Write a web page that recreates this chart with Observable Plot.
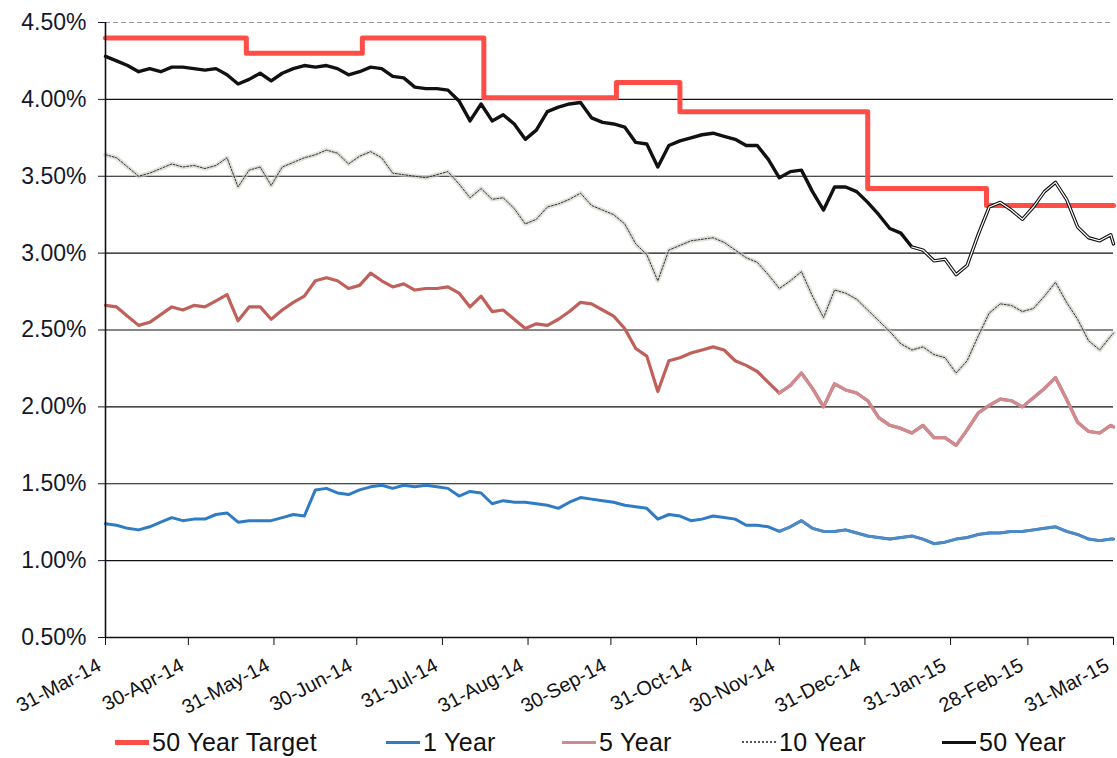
<!DOCTYPE html>
<html>
<head>
<meta charset="utf-8">
<script src="https://cdn.jsdelivr.net/npm/d3@7"></script>
<script src="https://cdn.jsdelivr.net/npm/@observablehq/plot@0.6"></script>
<style>
  body { margin: 0; background: #fff; }
  #wrap { position: relative; width: 1117px; height: 758px; font-family: "Liberation Sans", Arial, sans-serif; background: #fff; }
  #legend { position: absolute; left: 0; top: 722px; width: 1117px; height: 40px; }
  .item { position: absolute; top: 0; height: 40px; display: flex; align-items: center; font-size: 25px; letter-spacing: 0.3px; color: #111; white-space: nowrap; }
  .sw { display: inline-block; width: 34px; margin-right: 3px; }
</style>
</head>
<body>
<div id="wrap">
  <div id="chart"></div>
  <div id="legend"></div>
</div>
<script>
// Observation dates (every four days across the year)
const dates = [
  "2014-03-31",
  "2014-04-04","2014-04-08","2014-04-12","2014-04-16","2014-04-20","2014-04-24","2014-04-28",
  "2014-05-02","2014-05-06","2014-05-10","2014-05-14","2014-05-18","2014-05-22","2014-05-26","2014-05-30",
  "2014-06-03","2014-06-07","2014-06-11","2014-06-15","2014-06-19","2014-06-23","2014-06-27",
  "2014-07-01","2014-07-05","2014-07-09","2014-07-13","2014-07-17","2014-07-21","2014-07-25","2014-07-29",
  "2014-08-02","2014-08-06","2014-08-10","2014-08-14","2014-08-18","2014-08-22","2014-08-26","2014-08-30",
  "2014-09-03","2014-09-07","2014-09-11","2014-09-15","2014-09-19","2014-09-23","2014-09-27",
  "2014-10-01","2014-10-05","2014-10-09","2014-10-13","2014-10-17","2014-10-21","2014-10-25","2014-10-29",
  "2014-11-02","2014-11-06","2014-11-10","2014-11-14","2014-11-18","2014-11-22","2014-11-26","2014-11-30",
  "2014-12-04","2014-12-08","2014-12-12","2014-12-16","2014-12-20","2014-12-24","2014-12-28",
  "2015-01-01","2015-01-05","2015-01-09","2015-01-13","2015-01-17","2015-01-21","2015-01-25","2015-01-29",
  "2015-02-02","2015-02-06","2015-02-10","2015-02-14","2015-02-18","2015-02-22","2015-02-26",
  "2015-03-02","2015-03-06","2015-03-10","2015-03-14","2015-03-18","2015-03-22","2015-03-26","2015-03-30","2015-03-31"
];

// Yields, % per annum
const year1 = [
  1.24,
  1.23, 1.21, 1.20, 1.22, 1.25, 1.28, 1.26,
  1.27, 1.27, 1.30, 1.31, 1.25, 1.26, 1.26, 1.26,
  1.28, 1.30, 1.29, 1.46, 1.47, 1.44, 1.43,
  1.46, 1.48, 1.49, 1.47, 1.49, 1.48, 1.49, 1.48,
  1.47, 1.42, 1.45, 1.44, 1.37, 1.39, 1.38, 1.38,
  1.37, 1.36, 1.34, 1.38, 1.41, 1.40, 1.39,
  1.38, 1.36, 1.35, 1.34, 1.27, 1.30, 1.29, 1.26,
  1.27, 1.29, 1.28, 1.27, 1.23, 1.23, 1.22, 1.19,
  1.22, 1.26, 1.21, 1.19, 1.19, 1.20, 1.18,
  1.16, 1.15, 1.14, 1.15, 1.16, 1.14, 1.11, 1.12,
  1.14, 1.15, 1.17, 1.18, 1.18, 1.19, 1.19,
  1.20, 1.21, 1.22, 1.19, 1.17, 1.14, 1.13, 1.14, 1.14
];

const year5 = [
  2.66,
  2.65, 2.59, 2.53, 2.55, 2.60, 2.65, 2.63,
  2.66, 2.65, 2.69, 2.73, 2.56, 2.65, 2.65, 2.57,
  2.63, 2.68, 2.72, 2.82, 2.84, 2.82, 2.77,
  2.79, 2.87, 2.82, 2.78, 2.80, 2.76, 2.77, 2.77,
  2.78, 2.74, 2.65, 2.72, 2.62, 2.63, 2.57, 2.51,
  2.54, 2.53, 2.57, 2.62, 2.68, 2.67, 2.63,
  2.59, 2.51, 2.38, 2.33, 2.10, 2.30, 2.32, 2.35,
  2.37, 2.39, 2.37, 2.30, 2.27, 2.23, 2.16, 2.09,
  2.14, 2.22, 2.12, 2.00, 2.15, 2.11, 2.09,
  2.04, 1.93, 1.88, 1.86, 1.83, 1.88, 1.80, 1.80,
  1.75, 1.85, 1.96, 2.01, 2.05, 2.04, 2.00,
  2.06, 2.12, 2.19, 2.05, 1.90, 1.84, 1.83, 1.88, 1.87
];

const year10 = [
  3.64,
  3.62, 3.56, 3.50, 3.52, 3.55, 3.58, 3.56,
  3.57, 3.55, 3.57, 3.62, 3.43, 3.54, 3.56, 3.44,
  3.56, 3.59, 3.62, 3.64, 3.67, 3.65, 3.58,
  3.63, 3.66, 3.62, 3.52, 3.51, 3.50, 3.49, 3.51,
  3.53, 3.45, 3.36, 3.42, 3.35, 3.36, 3.29, 3.19,
  3.22, 3.30, 3.32, 3.35, 3.39, 3.31, 3.28,
  3.25, 3.19, 3.06, 2.99, 2.82, 3.02, 3.05, 3.08,
  3.09, 3.10, 3.07, 3.02, 2.97, 2.94, 2.86, 2.77,
  2.82, 2.88, 2.72, 2.58, 2.76, 2.74, 2.70,
  2.63, 2.56, 2.49, 2.41, 2.37, 2.39, 2.34, 2.32,
  2.22, 2.30, 2.46, 2.61, 2.67, 2.66, 2.62,
  2.64, 2.72, 2.81, 2.68, 2.57, 2.43, 2.37, 2.46, 2.48
];

const year50 = [
  4.28,
  4.25, 4.22, 4.18, 4.20, 4.18, 4.21, 4.21,
  4.20, 4.19, 4.20, 4.16, 4.10, 4.13, 4.17, 4.12,
  4.17, 4.20, 4.22, 4.21, 4.22, 4.20, 4.16,
  4.18, 4.21, 4.20, 4.15, 4.14, 4.08, 4.07, 4.07,
  4.06, 3.99, 3.86, 3.97, 3.86, 3.90, 3.84, 3.74,
  3.80, 3.92, 3.95, 3.97, 3.98, 3.88, 3.85,
  3.84, 3.82, 3.72, 3.71, 3.56, 3.70, 3.73, 3.75,
  3.77, 3.78, 3.76, 3.74, 3.70, 3.70, 3.61, 3.49,
  3.53, 3.54, 3.40, 3.28, 3.43, 3.43, 3.40,
  3.33, 3.25, 3.16, 3.13, 3.04, 3.02, 2.95, 2.96,
  2.86, 2.92, 3.12, 3.30, 3.33, 3.28, 3.22,
  3.30, 3.40, 3.46, 3.35, 3.17, 3.10, 3.08, 3.12, 3.06
];

// 50 year target: each level holds until the next change date
const targetDates  = ["2014-03-31","2014-05-21","2014-07-02","2014-08-15","2014-10-02","2014-10-25","2015-01-01","2015-02-13","2015-03-31"];
const targetValues = [4.40, 4.30, 4.40, 4.01, 4.11, 3.92, 3.42, 3.31, 3.31];

// Axis ticks
const yTicks = [0.5, 1.0, 1.5, 2.0, 2.5, 3.0, 3.5, 4.0, 4.5];
const xTickDates = ["2014-03-31","2014-04-30","2014-05-31","2014-06-30","2014-07-31","2014-08-31",
                    "2014-09-30","2014-10-31","2014-11-30","2014-12-31","2015-01-31","2015-02-28","2015-03-31"];

const seriesNames = ["50 Year Target", "1 Year", "5 Year", "10 Year", "50 Year"];

// ---- build tables ----
const toDate = s => new Date(s + "T00:00:00Z");
const T = dates.map(toDate);
const table = vals => T.map((d, i) => ({date: d, value: vals[i]}));
const from = (rows, s) => rows.filter(r => r.date >= toDate(s));

const r1 = table(year1), r5 = table(year5), r10 = table(year10), r50 = table(year50);
const target = targetDates.map((d, i) => ({date: toDate(d), value: targetValues[i]}));
const xTicks = xTickDates.map(toDate);
const fmtDate = d3.utcFormat("%d-%b-%y");

const C = {
  target: "#ff4d48",
  y1: "#2f7cc5", y1late: "#4f8ac6",
  y5: "#c0605b", y5late: "#d08b90",
  y10: "#333", y10halo: "#c9cec2",
  y50: "#111"
};

const chart = Plot.plot({
  width: 1117,
  height: 722,
  marginLeft: 105,
  marginRight: 4,
  marginTop: 22,
  marginBottom: 85,
  style: {fontFamily: "'Liberation Sans', Arial, sans-serif", background: "#fff", color: "#111"},
  x: {type: "utc", domain: [toDate("2014-03-31"), toDate("2015-03-31")]},
  y: {domain: [0.5, 4.5]},
  marks: [
    // horizontal gridlines
    Plot.ruleY(yTicks.filter(v => v > 0.5 && v < 4.5), {stroke: "#111", strokeWidth: 1.2}),
    Plot.ruleY([4.5], {stroke: "#9a9a9a", strokeWidth: 1, strokeDasharray: "5,3"}),

    // 1 year
    Plot.line(r1, {x: "date", y: "value", stroke: C.y1, strokeWidth: 3}),
    Plot.line(from(r1, "2014-11-30"), {x: "date", y: "value", stroke: C.y1late, strokeWidth: 2.8}),

    // 5 year
    Plot.line(r5, {x: "date", y: "value", stroke: C.y5, strokeWidth: 3.2}),
    Plot.line(from(r5, "2014-11-30"), {x: "date", y: "value", stroke: C.y5late, strokeWidth: 3.2}),

    // 10 year: soft grey trace under a fine dotted line
    Plot.line(r10, {x: "date", y: "value", stroke: C.y10halo, strokeWidth: 4.5, strokeOpacity: 0.6}),
    Plot.line(r10, {x: "date", y: "value", stroke: C.y10, strokeWidth: 1, strokeDasharray: "2,1.5"}),

    // 50 year target (stepped)
    Plot.line(target, {x: "date", y: "value", curve: "step-after", stroke: C.target, strokeWidth: 5}),

    // 50 year
    Plot.line(r50, {x: "date", y: "value", stroke: C.y50, strokeWidth: 3.4}),
    Plot.line(from(r50, "2015-01-17"), {x: "date", y: "value", stroke: "#fff", strokeWidth: 1.2}),

    // axis lines
    Plot.ruleX([toDate("2014-03-31")], {stroke: "#111", strokeWidth: 1.6}),
    Plot.ruleY([0.5], {stroke: "#111", strokeWidth: 1.6}),

    Plot.axisY({
      ticks: yTicks,
      tickFormat: d => d.toFixed(2) + "%",
      tickSize: 7,
      tickPadding: 12,
      fontSize: 23,
      color: "#15182a",
      label: null
    }),
    // x tick marks
    Plot.axisX({
      ticks: xTicks,
      tickFormat: () => "",
      tickSize: 8,
      color: "#111",
      label: null
    }),
    // slanted date labels
    Plot.text(xTicks, {
      x: d => d,
      frameAnchor: "bottom",
      text: fmtDate,
      rotate: -28,
      textAnchor: "end",
      dx: -3,
      dy: 32,
      fontSize: 20,
      fill: "#111"
    })
  ]
});
document.getElementById("chart").appendChild(chart);

// ---- legend ----
const legendStyle = [
  {left: 115, stroke: C.target, h: 5, dash: false},
  {left: 386, stroke: C.y1, h: 3, dash: false},
  {left: 562, stroke: C.y5late, h: 3, dash: false},
  {left: 742, stroke: "#555", h: 2, dash: true},
  {left: 942, stroke: C.y50, h: 3.5, dash: false}
];
const legend = document.getElementById("legend");
seriesNames.forEach((name, i) => {
  const s = legendStyle[i];
  const item = document.createElement("div");
  item.className = "item";
  item.style.left = s.left + "px";
  const sw = document.createElement("span");
  sw.className = "sw";
  sw.style.height = "0px";
  sw.style.borderTop = `${s.h}px ${s.dash ? "dotted" : "solid"} ${s.stroke}`;
  item.appendChild(sw);
  const label = document.createElement("span");
  label.textContent = name;
  item.appendChild(label);
  legend.appendChild(item);
});
</script>
</body>
</html>
